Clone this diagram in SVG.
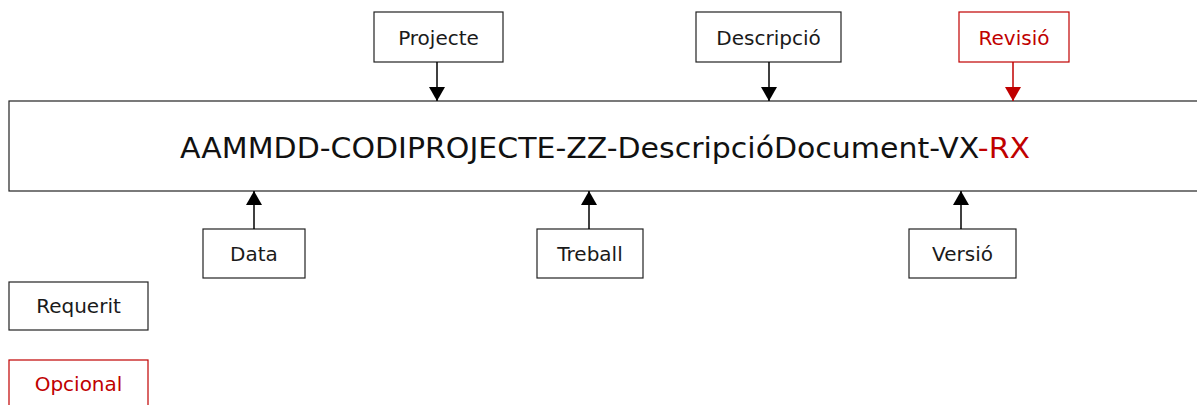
<svg xmlns="http://www.w3.org/2000/svg" width="1197" height="405" viewBox="0 0 1197 405">
<style>
.box{fill:#fff;stroke:#222;stroke-width:1.2}
.opt{fill:#fff;stroke:#c00000;stroke-width:1.2}
.lbl{font-family:"DejaVu Sans","Liberation Sans",Arial,sans-serif;font-size:20px;fill:#1a1a1a;text-anchor:middle}
.red{fill:#c00000}
.conn{stroke:#000;stroke-width:1.5;fill:none}
.connr{stroke:#c00000;stroke-width:1.5;fill:none}
</style>
<defs>
<marker id="ah" viewBox="0 0 14 16" refX="14" refY="8" markerWidth="14" markerHeight="16" markerUnits="userSpaceOnUse" orient="auto"><path d="M0,0 L14,8 L0,16 Z" fill="#000"/></marker>
<marker id="ahr" viewBox="0 0 14 16" refX="14" refY="8" markerWidth="14" markerHeight="16" markerUnits="userSpaceOnUse" orient="auto"><path d="M0,0 L14,8 L0,16 Z" fill="#c00000"/></marker>
</defs>
<g id="main">
<rect class="box" x="9" y="101" width="1200" height="90"/>
<text x="605" y="158" font-family="DejaVu Sans,Liberation Sans,Arial,sans-serif" font-size="28" fill="#111" text-anchor="middle" textLength="850" lengthAdjust="spacingAndGlyphs">AAMMDD-CODIPROJECTE-ZZ-DescripcióDocument-VX<tspan class="red">-RX</tspan></text>
</g>
<g id="projecte"><rect class="box" x="374" y="12" width="129" height="50"/><text class="lbl" x="438.5" y="45">Projecte</text></g>
<g id="descripcio"><rect class="box" x="696" y="12" width="145" height="50"/><text class="lbl" x="768.5" y="45">Descripció</text></g>
<g id="revisio"><rect class="opt" x="959" y="12" width="110" height="50"/><text class="lbl red" x="1014" y="45">Revisió</text></g>
<g id="data"><rect class="box" x="203" y="229" width="102" height="49"/><text class="lbl" x="254" y="261">Data</text></g>
<g id="treball"><rect class="box" x="537" y="229" width="106" height="49"/><text class="lbl" x="590" y="261">Treball</text></g>
<g id="versio"><rect class="box" x="909" y="229" width="107" height="49"/><text class="lbl" x="962.5" y="261">Versió</text></g>
<g id="requerit"><rect class="box" x="9" y="282" width="139" height="48"/><text class="lbl" x="78.5" y="313">Requerit</text></g>
<g id="opcional"><rect class="opt" x="9" y="360" width="139" height="60"/><text class="lbl red" x="78.5" y="391">Opcional</text></g>
<g id="connectors">
<line class="conn" x1="437" y1="62" x2="437" y2="101" marker-end="url(#ah)"/>
<line class="conn" x1="769" y1="62" x2="769" y2="101" marker-end="url(#ah)"/>
<line class="connr" x1="1013" y1="62" x2="1013" y2="101" marker-end="url(#ahr)"/>
<line class="conn" x1="254" y1="229" x2="254" y2="191" marker-end="url(#ah)"/>
<line class="conn" x1="589" y1="229" x2="589" y2="191" marker-end="url(#ah)"/>
<line class="conn" x1="961" y1="229" x2="961" y2="191" marker-end="url(#ah)"/>
</g>
</svg>
